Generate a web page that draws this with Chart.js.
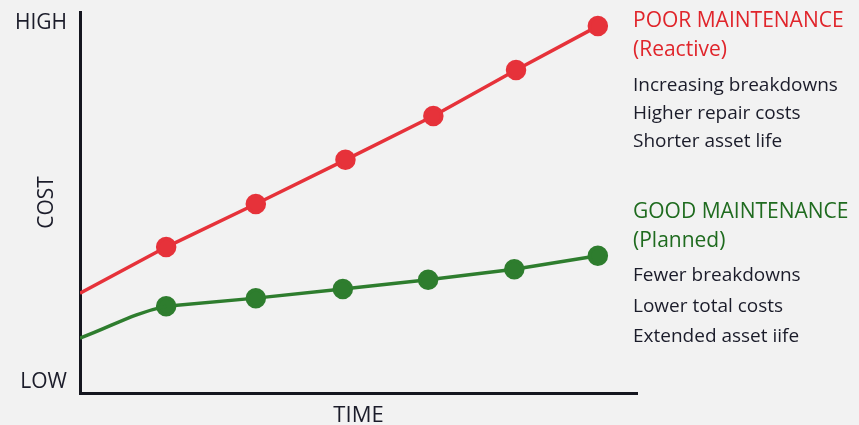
<!DOCTYPE html>
<html>
<head>
<meta charset="utf-8">
<style>
  html, body { margin: 0; padding: 0; background: #f2f2f2; }
  #wrap { width: 859px; height: 425px; position: relative; }
</style>
<script src="https://cdn.jsdelivr.net/npm/chart.js@4.4.1/dist/chart.umd.min.js"></script>
</head>
<body>
<div id="wrap"><canvas id="c" width="859" height="425"></canvas></div>
<script>
// ---- data ----
const poorTime   = [0, 0.99, 2.02, 3.05, 4.06, 5.01, 5.95];
const poorCost   = [26.2, 38.3, 49.6, 61.2, 72.7, 84.8, 96.3];
const goodTime   = [0, 0.99, 2.02, 3.02, 4.0, 4.99, 5.95];
const goodCost   = [14.4, 22.8, 24.9, 27.3, 29.7, 32.5, 36.0];
const yTickValues = [3, 97];
const yTickLabels = ['LOW', 'HIGH'];
const poorTitle = ['POOR MAINTENANCE', '(Reactive)'];
const poorNotes = ['Increasing breakdowns', 'Higher repair costs', 'Shorter asset life'];
const goodTitle = ['GOOD MAINTENANCE', '(Planned)'];
const goodNotes = ['Fewer breakdowns', 'Lower total costs', 'Extended asset iife'];

const RED = '#e6323a';
const RED_TEXT = '#e0252b';
const GREEN = '#2e7d2e';
const GREEN_TEXT = '#1f6b1f';
const DARK = '#1b1c2a';
const FONT = '"Open Sans", "Noto Sans", sans-serif';

const pts = (xs, vals, from, to) => xs.slice(from, to).map((t, i) => ({ x: t, y: vals[from + i] }));
const poorRadii = poorTime.map((t, i) => i === 0 ? 0 : 8.5);

const sidePanel = {
  id: 'sidePanel',
  afterDraw(chart) {
    const ctx = chart.ctx;
    const x = 633;
    ctx.save();
    ctx.textAlign = 'left';
    ctx.textBaseline = 'middle';
    const block = (titles, notes, titleY, noteY, color) => {
      ctx.fillStyle = color;
      ctx.font = '500 21px ' + FONT;
      titles.forEach((t, i) => ctx.fillText(t, x, titleY[i]));
      ctx.fillStyle = DARK;
      ctx.font = '500 19px ' + FONT;
      notes.forEach((t, i) => ctx.fillText(t, x, noteY[i]));
    };
    block(poorTitle, poorNotes, [21, 50], [86, 114, 142], RED_TEXT);
    block(goodTitle, goodNotes, [212, 241], [276, 307, 337], GREEN_TEXT);
    ctx.restore();
  }
};

const bg = {
  id: 'bg',
  beforeDraw(chart) {
    const ctx = chart.ctx;
    ctx.save();
    ctx.fillStyle = '#f2f2f2';
    ctx.fillRect(0, 0, chart.width, chart.height);
    ctx.restore();
  }
};

new Chart(document.getElementById('c'), {
  type: 'line',
  data: {
    datasets: [
      {
        label: 'Poor maintenance',
        data: pts(poorTime, poorCost, 0, 7),
        borderColor: RED,
        backgroundColor: RED,
        pointBackgroundColor: RED,
        pointBorderColor: RED,
        borderWidth: 3.5,
        pointRadius: poorRadii,
        pointHoverRadius: poorRadii,
        tension: 0
      },
      {
        label: 'Good maintenance (start)',
        data: pts(goodTime, goodCost, 0, 3),
        borderColor: GREEN,
        borderWidth: 3.5,
        pointRadius: 0,
        tension: 0.4,
        segment: { borderColor: (c) => c.p0DataIndex === 0 ? GREEN : 'rgba(0,0,0,0)' }
      },
      {
        label: 'Good maintenance',
        data: pts(goodTime, goodCost, 1, 7),
        borderColor: GREEN,
        backgroundColor: GREEN,
        pointBackgroundColor: GREEN,
        pointBorderColor: GREEN,
        borderWidth: 3.5,
        pointRadius: 8.5,
        pointHoverRadius: 8.5,
        tension: 0
      }
    ]
  },
  options: {
    responsive: false,
    animation: false,
    events: [],
    layout: { padding: { top: 12, right: 222, bottom: 0, left: 0 } },
    plugins: { legend: { display: false }, tooltip: { enabled: false } },
    scales: {
      x: {
        type: 'linear',
        min: 0,
        max: 6.4,
        grid: { display: false, drawTicks: false },
        border: { display: true, color: '#15161f', width: 3 },
        ticks: { display: false },
        title: {
          display: true,
          text: 'TIME',
          color: DARK,
          font: { family: FONT, size: 22, weight: '500', lineHeight: 0.8 },
          padding: { top: 0, bottom: 0 }
        },
        afterFit(scale) { scale.height = 32; scale.paddingLeft = 0; scale.paddingRight = 0; }
      },
      y: {
        type: 'linear',
        min: 0,
        max: 100,
        grid: { display: false, drawTicks: false },
        border: { display: true, color: '#15161f', width: 3 },
        afterBuildTicks(scale) { scale.ticks = yTickValues.map(v => ({ value: v })); },
        ticks: {
          color: DARK,
          padding: 13,
          font: { family: FONT, size: 21, weight: '500' },
          callback: (v) => yTickLabels[yTickValues.indexOf(v)]
        },
        title: {
          display: true,
          text: 'COST',
          color: DARK,
          font: { family: FONT, size: 21, weight: '500', lineHeight: 1 },
          padding: { top: 36.5, bottom: 0 }
        },
        afterFit(scale) { scale.width = 80; scale.paddingTop = 0; scale.paddingBottom = 0; }
      }
    }
  },
  plugins: [bg, sidePanel]
});
</script>
</body>
</html>
